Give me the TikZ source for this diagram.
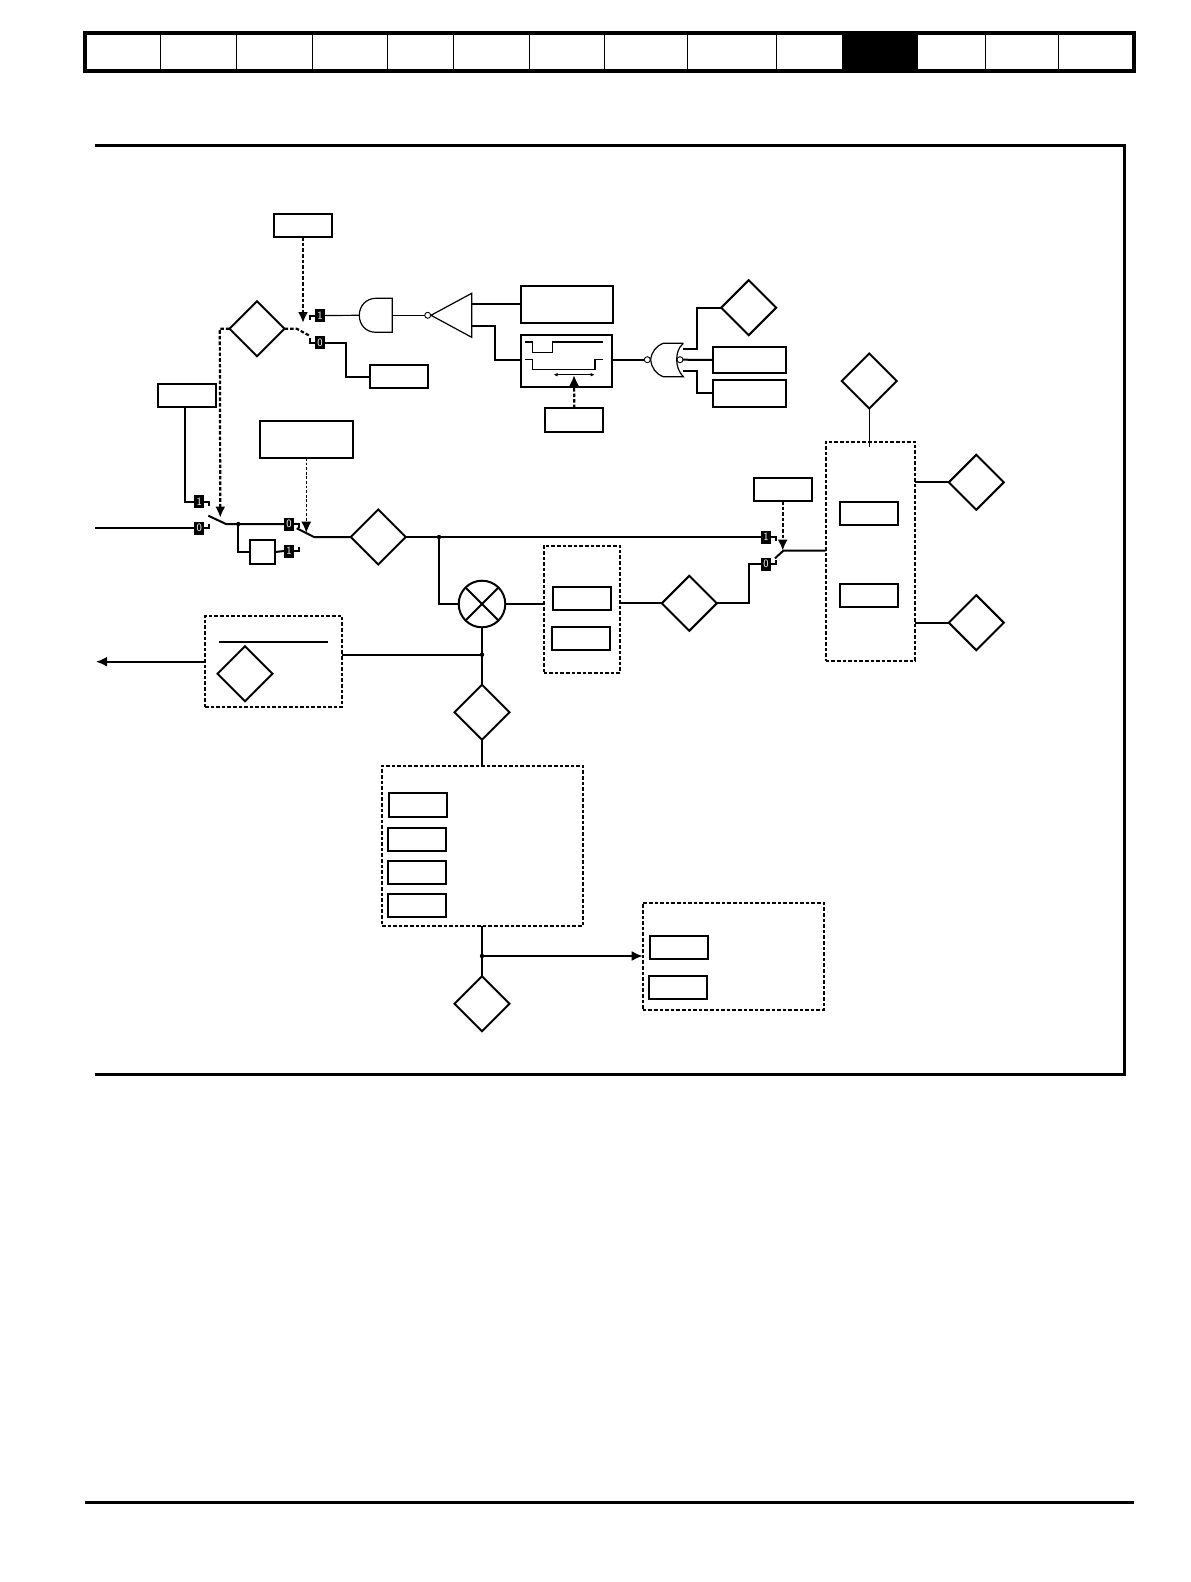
\documentclass[tikz,border=0pt]{standalone}
\usepackage{tikz}
\usetikzlibrary{arrows.meta}
\usetikzlibrary{shapes.geometric}
\tikzset{>={Latex[length=5.5mm,width=5mm]}}
\tikzset{
    wire/.style={line width=1mm},
    thinwire/.style={line width=.6mm},
    ctrl/.style={line width=1.1mm, dash pattern=on 1.8mm off 1mm},
    parbox/.style={draw, line width=1mm, inner sep=0, outer sep=0, minimum width=29mm, minimum height=11.7mm},
    dashbox/.style={draw, line width=1.1mm, dash pattern=on 1.8mm off 1mm, inner sep=0, outer sep=0},
    readout/.style={draw, line width=1mm, shape=diamond, aspect=1, inner sep=0, outer sep=0,
        minimum width=27.5mm, minimum height=27.5mm},
    swlabel/.style={fill=black, text=white, inner sep=0, outer sep=0, minimum width=5mm, minimum height=6.5mm,
        font=\fontsize{16}{16}\selectfont\sffamily},
    dot/.style={circle, fill=black, inner sep=0, outer sep=0, minimum size=2.2mm},
    bubble/.style={circle, draw, fill=white, line width=.45mm, inner sep=0, outer sep=0, minimum size=3mm}
}

\begin{document}
\begin{tikzpicture}[x=.5mm, y=-.5mm]
    \useasboundingbox (0, 0) rectangle (1190, 1582);
    % page furniture
    \fill (842, 33) rectangle (918, 71);
    \draw[line width=2.2mm] (85, 33) rectangle (1134, 71);
    \foreach \x in {160.5, 236, 312.4, 387.6, 453.7, 529.4, 604.6, 687.3, 776.7, 985, 1058.5}
        \draw[line width=.5mm] (\x, 33) -- (\x, 71);
    \draw[line width=1.7mm, line join=miter] (95, 145.5) -- (1124.5, 145.5) -- (1124.5, 1074.5) -- (95, 1074.5);
    \draw[line width=1.5mm] (85, 1502.5) -- (1134, 1502.5);

    % parameter boxes
    \node[parbox] (ptop) at (303, 225.5) {};
    \node[parbox] (pleft) at (186.7, 395.5) {};
    \node[parbox] (pzero) at (399, 376.5) {};
    \node[parbox, minimum width=46.4mm, minimum height=18.6mm] (pmode) at (306.3, 439.3) {};
    \node[parbox, minimum width=46.2mm, minimum height=18.5mm] (pthr) at (567.2, 304.2) {};
    \node[parbox, minimum width=45.7mm, minimum height=26.3mm] (pdel) at (566.7, 361) {};
    \node[parbox] (ptime) at (574.3, 420) {};
    \node[parbox, minimum width=36.2mm, minimum height=13.3mm] (pout) at (749.5, 360) {};
    \node[parbox, minimum width=36.2mm, minimum height=13.5mm] (pbrk) at (749.5, 393.2) {};
    \node[parbox] (psel) at (782.7, 489.3) {};
    \node[parbox, minimum width=12.8mm, minimum height=12mm] (plag) at (262.5, 552) {};

    % dashed groups
    \node[dashbox, minimum width=38.2mm, minimum height=63.7mm] (gscale) at (581.8, 609.3) {};
    \node[dashbox, minimum width=68.7mm, minimum height=45.5mm] (gmeter) at (273.6, 661.5) {};
    \node[dashbox, minimum width=100.5mm, minimum height=80mm] (glimit) at (482.5, 845.7) {};
    \node[dashbox, minimum width=90.5mm, minimum height=53.5mm] (gfold) at (733.2, 956.5) {};
    \node[dashbox, minimum width=44.8mm, minimum height=109.7mm] (gcur) at (870.5, 551.3) {};
    \node[parbox] (sa) at (581.7, 598.3) {};
    \node[parbox] (sb) at (581.2, 638.3) {};
    \node[parbox] (la) at (417.5, 805) {};
    \node[parbox] (lb) at (417, 839.3) {};
    \node[parbox] (lc) at (417, 872.5) {};
    \node[parbox] (ld) at (417, 905.7) {};
    \node[parbox] (fa) at (678.7, 947.3) {};
    \node[parbox] (fb) at (678.3, 987.3) {};
    \node[parbox] (ca) at (868.7, 513.2) {};
    \node[parbox] (cb) at (868.7, 595.3) {};

    % read-outs
    \node[readout] (dstat) at (257, 328.7) {};
    \node[readout] (dsum) at (378.3, 537) {};
    \node[readout] (dprod) at (689.3, 603.3) {};
    \node[readout] (dlim) at (482, 712.3) {};
    \node[readout] (dfin) at (482, 1003.7) {};
    \node[readout] (dmet) at (245, 673.7) {};
    \node[readout] (dgate) at (748.7, 307.7) {};
    \node[readout] (dcur) at (869.3, 381) {};
    \node[readout] (dra) at (976.3, 482.3) {};
    \node[readout] (drb) at (976.3, 622.7) {};

    % switch terminals
    \node[swlabel] (swa1) at (199.3, 501.7) {1};
    \node[swlabel] (swa0) at (199.3, 528.3) {0};
    \node[swlabel] (swb0) at (289, 524) {0};
    \node[swlabel] (swb1) at (289, 551) {1};
    \node[swlabel] (swc1) at (320, 315.5) {1};
    \node[swlabel] (swc0) at (320, 342.7) {0};
    \node[swlabel] (swd1) at (766, 537) {1};
    \node[swlabel] (swd0) at (766, 564) {0};
    \draw[wire] (swa1.east) -| ++(5, 4);
    \draw[wire] (swa0.east) -| ++(5, -4);
    \draw[wire] (swb0.east) -| ++(5, 4);
    \draw[wire] (swb1.east) -| ++(5, -4);
    \draw[wire] (swc1.west) -| ++(-5, 4);
    \draw[wire] (swc0.west) -| ++(-5, -5);
    \draw[wire] (swd1.east) -| ++(5, 4);
    \draw[wire] (swd0.east) -| ++(5, -4);

    % switch arms
    \coordinate (arma) at (208.3, 515.7);
    \coordinate (armao) at (226, 524);
    \coordinate (armb) at (296.7, 528.3);
    \coordinate (armbo) at (314, 537);
    \coordinate (armd) at (775, 558.3);
    \coordinate (armdo) at (783.3, 550.7);
    \draw[wire] (arma) -- (armao) -- (swb0.west);
    \draw[wire] (armb) -- (armbo) -- (dsum.west);
    \draw[wire] (armd) -- (armdo) -- (gcur.west |- armdo);

    % main path
    \coordinate (in) at (95, 528.3);
    \coordinate (out) at (96, 661.7);
    \coordinate (leftdrop) at (185, 407.3);
    \node[dot] (ja) at (238.3, 524) {};
    \node[dot] (jb) at (439, 537) {};
    \node[dot] (jc) at (482, 654.7) {};
    \node[dot] (jd) at (482, 956) {};
    \node[circle, draw, line width=1mm, inner sep=0, outer sep=0, minimum size=23.3mm] (mult) at (482, 604) {};
    \draw[wire] (mult.45) -- (mult.225);
    \draw[wire] (mult.135) -- (mult.315);
    \draw[wire] (in) -- (swa0.west);
    \draw[wire] (leftdrop) |- (swa1.west);
    \draw[wire] (ja.center) |- (plag.west);
    \draw[wire] (plag.east) -- (swb1.west);
    \draw[wire] (dsum.east) -- (swd1.west);
    \draw[wire] (jb.center) |- (mult.west);
    \draw[wire] (mult.east) -- (gscale.west |- mult.east);
    \draw[wire] (gscale.east |- dprod) -- (dprod.west);
    \draw[wire] (dprod.east) -| (748.5, 564) -- (swd0.west);
    \draw[wire] (mult.south) -- (dlim.north);
    \draw[wire] (gmeter.east |- jc) -- (jc.center);
    \draw[wire] (dlim.south) -- (glimit.north -| dlim.south);
    \draw[wire] (glimit.south -| dfin.north) -- (dfin.north);
    \draw[wire, ->] (jd.center) -- (gfold.west |- jd);
    \draw[wire, ->] (gmeter.west |- out) -- (out);
    \draw[wire] (219.3, 642) -- (327.7, 642);
    \draw[thinwire] (dcur.south) -- (869.3, 446.7);
    \draw[wire] (gcur.east |- dra) -- (dra.west);
    \draw[wire] (gcur.east |- drb) -- (drb.west);

    % control signals
    \coordinate (tipc) at (303, 323);
    \coordinate (tipa) at (220.3, 517.7);
    \coordinate (tipb) at (306.3, 532.7);
    \coordinate (tipd) at (782.7, 550.7);
    \coordinate (tipt) at (574, 375);
    \draw[ctrl, ->] (ptop.south) -- (tipc);
    \draw[ctrl, ->] (dstat.west) -- (219.8, 328.7) -- (tipa);
    \draw[ctrl] (dstat.east) -- (296.7, 328.7) -- (310, 336);
    \draw[line width=.55mm, dash pattern=on 1.4mm off .9mm, ->] (pmode.south -| tipb) -- (tipb);
    \draw[ctrl, ->] (psel.south) -- (tipd);
    \draw[ctrl, ->] (ptime.north) -- (tipt);

    % zero branch
    \draw[wire] (swc0.east) -| (345.7, 376.5) -- (pzero.west);

    % and gate
    \coordinate (andb) at (392.3, 315.3);
    \coordinate (andf) at (359.3, 315.3);
    \draw[thinwire] (376, 298.3) -- (392.3, 298.3) -- (392.3, 332.3) -- (376, 332.3)
        .. controls (366, 332.3) and (359.3, 325) .. (andf)
        .. controls (359.3, 306) and (366, 298.3) .. (376, 298.3);
    \draw[thinwire] (swc1.east) -- (andf);

    % comparator
    \node[bubble] (inv) at (427.7, 315.3) {};
    \coordinate (trit) at (471.7, 293.3);
    \coordinate (trib) at (471.7, 337.3);
    \coordinate (tril) at (431, 315.3);
    \coordinate (trio) at (471.7, 303.7);
    \coordinate (trid) at (471.7, 326.3);
    \draw[thinwire] (andb) -- (inv.west);
    \draw[thinwire, line join=miter] (tril) -- (trit) -- (trib) -- cycle;
    \draw[wire] (trio) -- (pthr.west |- trio);
    \coordinate (delin) at (494.7, 359.7);
    \coordinate (delout) at (612.3, 359.7);
    \draw[wire] (trid) -| (delin) -- (pdel.west |- delin);

    % delay waveforms
    \draw[thinwire] (525, 342) -- (532.7, 342) -- (532.7, 352.3) -- (552.3, 352.3) -- (552.3, 342) -- (602.7, 342);
    \draw[thinwire] (525, 359.3) -- (532.7, 359.3) -- (532.7, 369.3) -- (595, 369.3) -- (595, 359.3) -- (602.7, 359.3);
    \draw[thinwire, {Latex[length=2.2mm,width=1.8mm]}-{Latex[length=2.2mm,width=1.8mm]}] (553.3, 374.7) -- (595, 374.7);

    % nor gate
    \node[bubble] (norin) at (647.3, 359.7) {};
    \coordinate (nort) at (683.3, 349);
    \coordinate (norb) at (683.3, 370.7);
    \draw[wire] (delout) -- (norin.west);
    \draw[wire] (nort) -- (696.7, 349) |- (dgate.west);
    \draw[wire] (norb) -- (696.7, 370.7) |- (pbrk.west);
    \draw[thinwire] (683.3, 343.3) -- (663.3, 343.3)
        .. controls (656, 346) and (651.5, 352) .. (650.7, 359.7)
        .. controls (651.5, 368) and (656, 374) .. (663.3, 376.7) -- (683.3, 376.7)
        .. controls (678, 371) and (676.7, 365) .. (676.7, 359.7)
        .. controls (676.7, 354) and (678, 348) .. (683.3, 343.3);
    \node[bubble] (norout) at (680, 359.7) {};
    \draw[wire] (norout.east) -- (pout.west);
\end{tikzpicture}
\end{document}
